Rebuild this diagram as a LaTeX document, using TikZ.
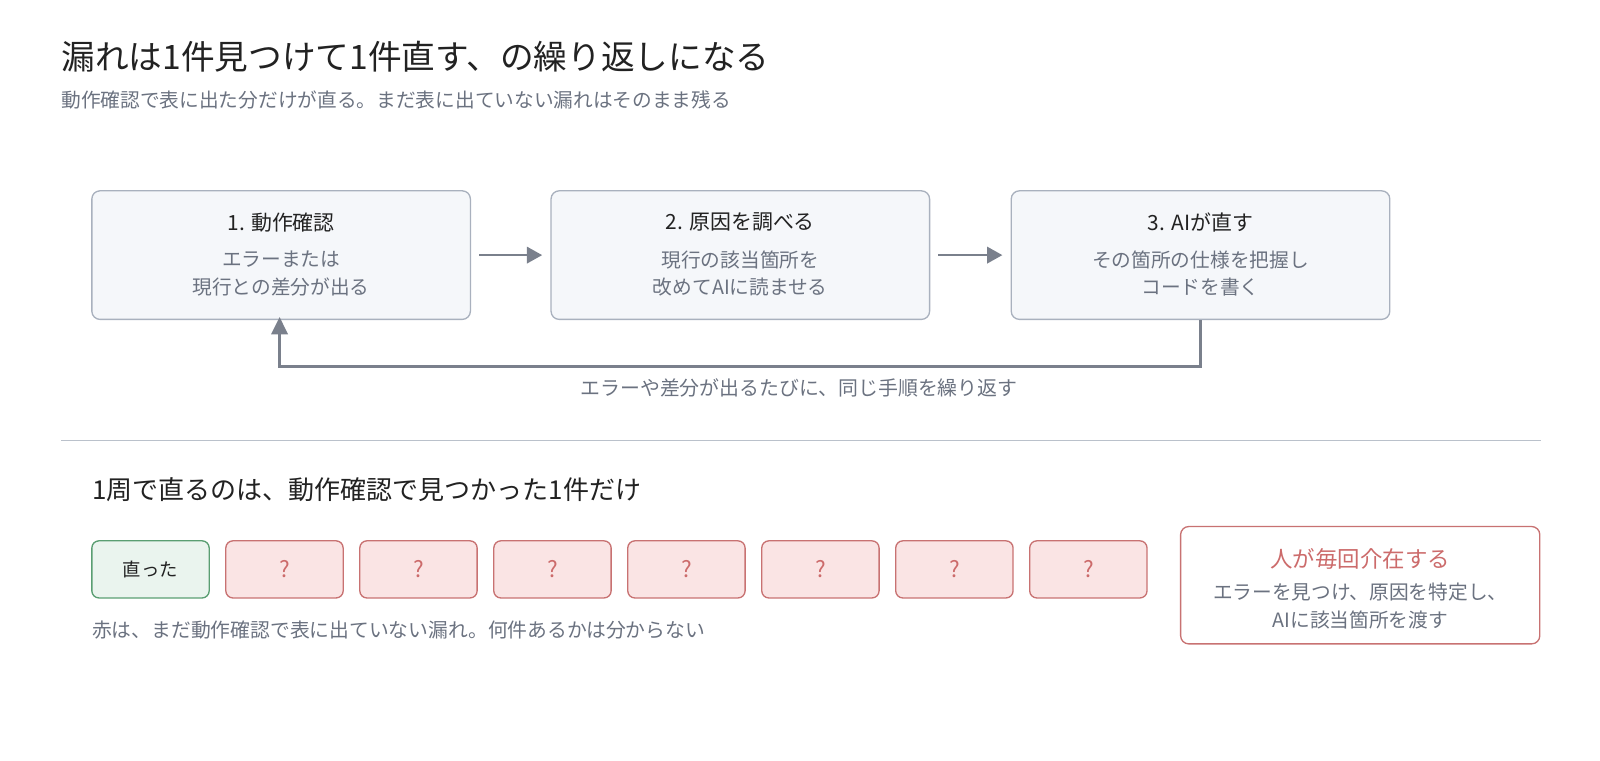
\documentclass[tikz,border=0pt]{standalone}
\usepackage{fontspec}
\setmainfont{Noto Sans CJK JP}
\usetikzlibrary{arrows.meta,positioning}
\definecolor{ink}{HTML}{222222}
\definecolor{muted}{HTML}{6B7280}
\definecolor{stepfill}{HTML}{F5F7FA}
\definecolor{stepline}{HTML}{A9B1BE}
\definecolor{flow}{HTML}{7A808C}
\definecolor{okfill}{HTML}{EAF4EE}
\definecolor{okline}{HTML}{5A9E72}
\definecolor{ngfill}{HTML}{FAE4E4}
\definecolor{ngline}{HTML}{C87272}
\definecolor{ngtext}{HTML}{CC6B6B}
\tikzset{
  stepbox/.style={draw=stepline, fill=stepfill, line width=1.3pt, rounded corners=8pt, minimum width=371pt, minimum height=126pt},
  cell/.style={draw=ngline, fill=ngfill, line width=1.3pt, rounded corners=7pt, minimum width=115pt, minimum height=56pt, text=ngtext, font=\fontsize{22}{22}\selectfont},
  flowarrow/.style={draw=flow, line width=2.5pt, -{Triangle[length=15pt,width=16pt]}},
  head/.style={font=\fontsize{20.5}{20}\selectfont, text=ink},
  body/.style={font=\fontsize{19.3}{27}\selectfont, text=muted, align=center},
}
\begin{document}
\begin{tikzpicture}[x=1pt,y=-1pt]
  \useasboundingbox (0,0) rectangle (1568,744.8);
  \node[anchor=west, inner sep=0pt, font=\fontsize{33}{33}\selectfont, text=ink] (title) at (60,56) {漏れは1件見つけて1件直す、の繰り返しになる};
  \node[anchor=west, inner sep=0pt, font=\fontsize{19.3}{19}\selectfont, text=muted] (sub) at (60,98) {動作確認で表に出た分だけが直る。まだ表に出ていない漏れはそのまま残る};
  % steps
  \node[stepbox] (s1) at (275.5,250) {};
  \node[stepbox] (s2) at (725.5,250) {};
  \node[stepbox] (s3) at (1176.5,250) {};
  \node[head] at (275.5,218) {1. 動作確認};
  \node[body] at (275.5,268) {エラーまたは\\現行との差分が出る};
  \node[head] at (725.5,218) {2. 原因を調べる};
  \node[body] at (725.5,268) {現行の該当箇所を\\改めてAIに読ませる};
  \node[head] at (1176.5,218) {3. AIが直す};
  \node[body] at (1176.5,268) {その箇所の仕様を把握し\\コードを書く};
  \draw[flowarrow] ([xshift=8pt]s1.east) -- ([xshift=-8pt]s2.west);
  \draw[flowarrow] ([xshift=8pt]s2.east) -- ([xshift=-8pt]s3.west);
  % loop back
  \coordinate (back) at (274,359);
  \draw[flowarrow, -{Triangle[length=17pt,width=16pt]}] (s3.south) |- (back) -- ([yshift=3pt]back |- s1.south);
  \node[font=\fontsize{19.5}{19}\selectfont, text=muted] (loop) at (783,380) {エラーや差分が出るたびに、同じ手順を繰り返す};
  \draw[stepline!80, line width=1.2pt] (60,432) -- (1510,432);
  % second half
  \node[anchor=west, inner sep=0pt, font=\fontsize{25.5}{25}\selectfont, text=ink] (sec) at (90,480) {1周で直るのは、動作確認で見つかった1件だけ};
  \node[cell, draw=okline, fill=okfill, text=ink, font=\fontsize{18}{18}\selectfont] (c0) at (147.5,558) {直った};
  \foreach \i in {1,...,7}
    \node[cell] (c\i) at (147.5+131.3*\i,558) {?};
  \node[anchor=west, inner sep=0pt, font=\fontsize{19.4}{19}\selectfont, text=muted] (note) at (90,617) {赤は、まだ動作確認で表に出ていない漏れ。何件あるかは分からない};
  \node[draw=ngline, fill=white, line width=1.3pt, rounded corners=8pt, minimum width=352pt, minimum height=115pt] (who) at (1333,573.5) {};
  \node[font=\fontsize{22}{22}\selectfont, text=ngtext] at (1333,548) {人が毎回介在する};
  \node[body] at (1333,594) {エラーを見つけ、原因を特定し、\\AIに該当箇所を渡す};
\end{tikzpicture}
\end{document}
